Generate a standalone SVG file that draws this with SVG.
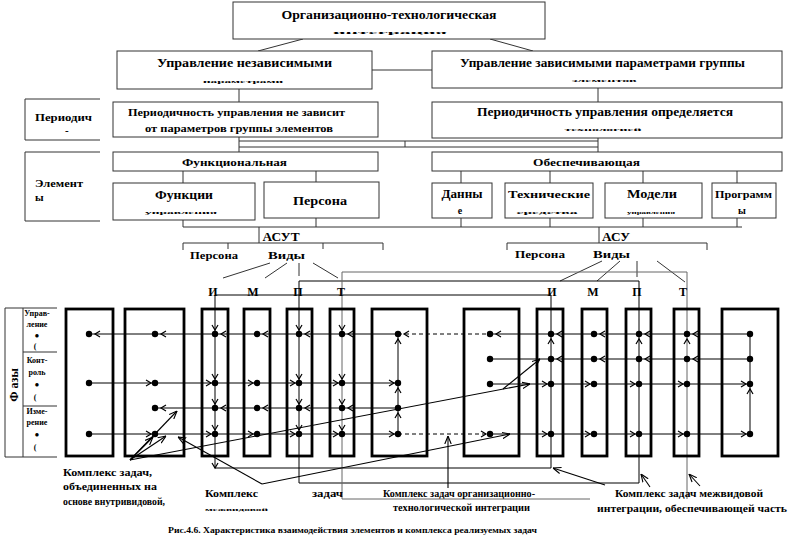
<svg xmlns="http://www.w3.org/2000/svg" width="800" height="542" viewBox="0 0 800 542">
<style>
text{font-family:"Liberation Serif","DejaVu Serif","Times New Roman",serif;font-weight:bold;fill:#000}
.t12{font-size:12px}
.t11{font-size:11px}
.t10{font-size:10px}
.t9{font-size:9px}
.t8{font-size:8px}
.m{text-anchor:middle}
.box{fill:#fff;stroke:#333;stroke-width:1}
.gb{fill:none;stroke:#000;stroke-width:2.8}
.ln{fill:none;stroke:#333;stroke-width:1}
.gl{fill:none;stroke:#000;stroke-width:1}
.gy{fill:none;stroke:#666;stroke-width:1}
.dl{fill:none;stroke:#000;stroke-width:1;stroke-dasharray:4,3}
.ch{fill:none;stroke:#000;stroke-width:1.2}
.ar{fill:none;stroke:#000;stroke-width:1.1;marker-end:url(#ah)}
</style>
<defs>
<path id="cl" class="ch" d="M5,-3 L0,0 L5,3"/>
<path id="cr" class="ch" d="M-5,-3 L0,0 L-5,3"/>
<path id="cd" class="ch" d="M-3,-5 L0,0 L3,-5"/>
<path id="cu" class="ch" d="M-3,5 L0,0 L3,5"/>
<circle id="d" r="3.2" fill="#000"/>
<marker id="ah" markerUnits="userSpaceOnUse" markerWidth="8" markerHeight="8" viewBox="0 0 10 10" refX="10" refY="5" orient="auto"><path d="M0,1 L10,5 L0,9" fill="none" stroke="#000" stroke-width="1.4"/></marker>
</defs>
<rect width="800" height="542" fill="#fff"/>

<g id="connectors">
<path class="ln" d="M303,39 L258,51 M490,39 L533,51 M372,70 H432 M239,89 V102 M598,88 V102"/>
<path class="ln" d="M239,137 V152 M598,137 V152 M239,141 H598 M239,147 H598 M405,141 V147"/>
<path class="ln" d="M183,171 V183 M316,171 V182 M461,171 V183 M550,171 V183 M643,171 V183 M737,171 V183"/>
<path class="ln" d="M183,220 V227 M316,218 V227 M461,218 V227 M550,218 V227 M643,218 V227 M737,218 V227 M183,227 H742"/>
<path class="ln" d="M259,227 V243 M183,243 H383 M183,243 V250 M228,243 V249 M323,243 V249 M383,243 V250"/>
<path class="ln" d="M599,227 V243 M507,243 H707 M507,243 V250 M707,243 V250"/>
<path class="ln" d="M270,263 L223,278 M287,263 L265,278 M299,263 V276 M313,263 L338,278"/>
<path class="ln" d="M602,261 L560,281 M620,261 L597,281 M637,261 V277 M657,261 L685,282"/>
<path class="gl" d="M215,295 H551 V468 H215 V295"/>
<path class="gl" d="M299,281 H639 V483 H299 V281"/>
<path class="gy" d="M342,272 H687 V499 M342,272 V499 H590"/>
<path class="gl" d="M89,334 H398 M490,334 H750 M89,383 H398 M155,408 H398 M89,434 H398 M490,434 H750 M490,359 H750 M490,384 H750 M398,334 V434 M750,334 V434"/>
<path class="dl" d="M398,334 H490 M398,434 H490"/>
<path class="ar" d="M130,460 L153,437"/>
<path class="ar" d="M130,460 L177,411"/>
<path class="ar" d="M130,460 L166,436"/>
<path class="ar" d="M130,460 L530,384"/>
<path class="ar" d="M503,389 L540,359"/>
<path class="ar" d="M262,484 L178,437"/>
<path class="ar" d="M262,484 L510,434"/>
<path class="ar" d="M448,488 V436"/>
<path class="ar" d="M605,485 L553,468"/>
<path class="ar" d="M650,487 L641,474"/>
<path class="ar" d="M700,486 L689,474"/>
</g>

<g id="n-top"><rect class="box" x="233" y="2" width="312" height="37"/>
<text class="t12 m" x="389" y="19" textLength="215" lengthAdjust="spacingAndGlyphs">Организационно-технологическая</text>
<text class="t11 m" transform="translate(390,34) scale(1,0.45)" textLength="114" lengthAdjust="spacingAndGlyphs">интеграция</text></g>

<g id="n-indep"><rect class="box" x="117" y="51" width="255" height="38"/>
<text class="t12 m" x="244.5" y="67" textLength="175" lengthAdjust="spacingAndGlyphs">Управление независимыми</text>
<text class="t11 m" transform="translate(243,83) scale(1,0.45)" textLength="80" lengthAdjust="spacingAndGlyphs">параметрами</text></g>

<g id="n-dep"><rect class="box" x="432" y="51" width="350" height="37"/>
<text class="t12 m" x="602.5" y="67" textLength="285" lengthAdjust="spacingAndGlyphs">Управление зависимыми параметрами группы</text>
<text class="t11 m" transform="translate(604,82) scale(1,0.45)" textLength="65" lengthAdjust="spacingAndGlyphs">элементов</text></g>

<g id="n-per-label"><path class="ln" d="M100,99 H25 V140 H100"/>
<text class="t11" x="35" y="121" textLength="57" lengthAdjust="spacingAndGlyphs">Периодич</text>
<text class="t11" x="65" y="134">-</text></g>

<g id="n-per1"><rect class="box" x="113" y="102" width="265" height="35"/>
<text class="t11 m" x="236.5" y="116" textLength="217" lengthAdjust="spacingAndGlyphs">Периодичность управления не зависит</text>
<text class="t10 m" x="239" y="132" textLength="188" lengthAdjust="spacingAndGlyphs">от параметров группы элементов</text></g>

<g id="n-per2"><rect class="box" x="432" y="102" width="350" height="36"/>
<text class="t12 m" x="605" y="116" textLength="256" lengthAdjust="spacingAndGlyphs">Периодичность управления определяется</text>
<text class="t11 m" transform="translate(603,131) scale(1,0.45)" textLength="77" lengthAdjust="spacingAndGlyphs">технологией</text></g>

<g id="n-el-label"><path class="ln" d="M100,152 H25 V221 H100"/>
<text class="t11" x="35" y="187" textLength="48" lengthAdjust="spacingAndGlyphs">Элемент</text>
<text class="t11" x="35" y="201">ы</text></g>

<g id="n-func"><rect class="box" x="113" y="152" width="265" height="19"/>
<text class="t11 m" x="234.5" y="166" textLength="105" lengthAdjust="spacingAndGlyphs">Функциональная</text></g>
<g id="n-obes"><rect class="box" x="432" y="152" width="350" height="19"/>
<text class="t11 m" x="586.5" y="166" textLength="107" lengthAdjust="spacingAndGlyphs">Обеспечивающая</text></g>

<g id="n-fu"><rect class="box" x="113" y="183" width="142" height="37"/>
<text class="t12 m" x="184" y="199" textLength="58" lengthAdjust="spacingAndGlyphs">Функции</text>
<text class="t11 m" transform="translate(181,214) scale(1,0.45)" textLength="72" lengthAdjust="spacingAndGlyphs">управления</text></g>
<g id="n-pers"><rect class="box" x="264" y="182" width="115" height="36"/>
<text class="t12 m" x="320" y="205" textLength="54" lengthAdjust="spacingAndGlyphs">Персона</text></g>
<g id="n-data"><rect class="box" x="432" y="183" width="60" height="35"/>
<text class="t12 m" x="462" y="198" textLength="41" lengthAdjust="spacingAndGlyphs">Данны</text>
<text class="t10 m" x="460" y="214">е</text></g>
<g id="n-tech"><rect class="box" x="505" y="183" width="88" height="35"/>
<text class="t11 m" x="549" y="198" textLength="82" lengthAdjust="spacingAndGlyphs">Технические</text>
<text class="t11 m" transform="translate(547,214) scale(1,0.45)" textLength="61" lengthAdjust="spacingAndGlyphs">средства</text></g>
<g id="n-model"><rect class="box" x="605" y="183" width="97" height="35"/>
<text class="t12 m" x="652" y="198" textLength="50" lengthAdjust="spacingAndGlyphs">Модели</text>
<text class="t11 m" transform="translate(651,214) scale(1,0.45)" textLength="48" lengthAdjust="spacingAndGlyphs">управления</text></g>
<g id="n-prog"><rect class="box" x="712" y="183" width="64" height="35"/>
<text class="t11 m" x="743.5" y="198" textLength="57" lengthAdjust="spacingAndGlyphs">Программ</text>
<text class="t10 m" x="742" y="214">ы</text></g>

<g id="n-asut">
<text class="t12 m" x="281" y="241" textLength="37" lengthAdjust="spacingAndGlyphs">АСУТ</text>
<text class="t11 m" x="214" y="259" textLength="48" lengthAdjust="spacingAndGlyphs">Персона</text>
<text class="t11 m" x="286.5" y="259" textLength="37" lengthAdjust="spacingAndGlyphs">Виды</text>
<text class="t12 m" x="213" y="296">И</text><text class="t12 m" x="253" y="296">М</text><text class="t12 m" x="298" y="296">П</text><text class="t12 m" x="341" y="296">Т</text>
</g>
<g id="n-asu">
<text class="t12 m" x="616" y="241" textLength="28" lengthAdjust="spacingAndGlyphs">АСУ</text>
<text class="t11 m" x="540" y="258" textLength="50" lengthAdjust="spacingAndGlyphs">Персона</text>
<text class="t11 m" x="611.5" y="258" textLength="37" lengthAdjust="spacingAndGlyphs">Виды</text>
<text class="t12 m" x="552" y="296">И</text><text class="t12 m" x="593" y="296">М</text><text class="t12 m" x="637" y="296">П</text><text class="t12 m" x="683" y="296">Т</text>
</g>

<g id="n-phases">
<path class="ln" d="M57,308 H5 V457 H57 M23,308 V457 M23,352 H57 M23,406 H57"/>
<text class="t12 m" transform="translate(18,385) rotate(-90)">Ф азы</text>
<text class="t8 m" x="37" y="316">Управ-</text><text class="t8 m" x="37" y="327">ление</text><text class="t8 m" x="37" y="338">●</text><text class="t8 m" x="35" y="349">(</text>
<text class="t8 m" x="37" y="363">Конт-</text><text class="t8 m" x="37" y="375">роль</text><text class="t8 m" x="37" y="387">●</text><text class="t8 m" x="35" y="400">(</text>
<text class="t8 m" x="37" y="414">Изме-</text><text class="t8 m" x="37" y="425">рение</text><text class="t8 m" x="37" y="437">●</text><text class="t8 m" x="35" y="450">(</text>
</g>

<g id="n-grid">
<rect class="gb" x="66" y="309" width="47" height="147"/>
<rect class="gb" x="125" y="309" width="59" height="147"/>
<rect class="gb" x="202" y="309" width="26" height="147"/>
<rect class="gb" x="244" y="309" width="26" height="147"/>
<rect class="gb" x="287" y="309" width="25" height="147"/>
<rect class="gb" x="330" y="309" width="24" height="147"/>
<rect class="gb" x="372" y="309" width="55" height="147"/>
<rect class="gb" x="464" y="309" width="55" height="147"/>
<rect class="gb" x="537" y="309" width="26" height="147"/>
<rect class="gb" x="582" y="309" width="25" height="147"/>
<rect class="gb" x="626" y="309" width="25" height="147"/>
<rect class="gb" x="674" y="309" width="25" height="147"/>
<rect class="gb" x="722" y="309" width="56" height="147"/>
<use href="#d" x="89" y="334"/><use href="#d" x="89" y="383"/><use href="#d" x="89" y="434"/>
<use href="#d" x="155" y="334"/><use href="#d" x="155" y="383"/><use href="#d" x="155" y="408"/><use href="#d" x="155" y="434"/>
<use href="#d" x="215" y="334"/><use href="#d" x="215" y="383"/><use href="#d" x="215" y="408"/><use href="#d" x="215" y="434"/>
<use href="#d" x="257" y="334"/><use href="#d" x="257" y="383"/><use href="#d" x="257" y="408"/><use href="#d" x="257" y="434"/>
<use href="#d" x="299" y="334"/><use href="#d" x="299" y="383"/><use href="#d" x="299" y="408"/><use href="#d" x="299" y="434"/>
<use href="#d" x="342" y="334"/><use href="#d" x="342" y="383"/><use href="#d" x="342" y="408"/><use href="#d" x="342" y="434"/>
<use href="#d" x="398" y="334"/><use href="#d" x="398" y="383"/><use href="#d" x="398" y="408"/><use href="#d" x="398" y="434"/>
<use href="#d" x="490" y="334"/><use href="#d" x="490" y="359"/><use href="#d" x="490" y="384"/><use href="#d" x="490" y="434"/>
<use href="#d" x="551" y="334"/><use href="#d" x="551" y="359"/><use href="#d" x="551" y="384"/><use href="#d" x="551" y="434"/>
<use href="#d" x="594" y="334"/><use href="#d" x="594" y="359"/><use href="#d" x="594" y="384"/><use href="#d" x="594" y="434"/>
<use href="#d" x="639" y="334"/><use href="#d" x="639" y="359"/><use href="#d" x="639" y="384"/><use href="#d" x="639" y="434"/>
<use href="#d" x="687" y="334"/><use href="#d" x="687" y="359"/><use href="#d" x="687" y="384"/><use href="#d" x="687" y="434"/>
<use href="#d" x="750" y="334"/><use href="#d" x="750" y="359"/><use href="#d" x="750" y="384"/><use href="#d" x="750" y="434"/>
<use href="#cl" x="95" y="334"/><use href="#cl" x="161" y="334"/><use href="#cl" x="221" y="334"/><use href="#cl" x="263" y="334"/><use href="#cl" x="305" y="334"/><use href="#cl" x="348" y="334"/><use href="#cl" x="404" y="334"/>
<use href="#cl" x="496" y="334"/><use href="#cl" x="557" y="334"/><use href="#cl" x="600" y="334"/><use href="#cl" x="645" y="334"/><use href="#cl" x="693" y="334"/>
<use href="#cr" x="151" y="383"/><use href="#cr" x="211" y="383"/><use href="#cr" x="253" y="383"/><use href="#cr" x="295" y="383"/><use href="#cr" x="338" y="383"/><use href="#cr" x="394" y="383"/>
<use href="#cl" x="161" y="408"/><use href="#cl" x="221" y="408"/><use href="#cl" x="263" y="408"/><use href="#cl" x="305" y="408"/><use href="#cl" x="348" y="408"/>
<use href="#cr" x="151" y="434"/><use href="#cr" x="211" y="434"/><use href="#cr" x="253" y="434"/><use href="#cr" x="295" y="434"/><use href="#cr" x="338" y="434"/><use href="#cr" x="394" y="434"/><use href="#cr" x="486" y="434"/>
<use href="#cr" x="547" y="434"/><use href="#cr" x="590" y="434"/><use href="#cr" x="635" y="434"/><use href="#cr" x="683" y="434"/><use href="#cr" x="746" y="434"/>
<use href="#cl" x="557" y="359"/><use href="#cl" x="600" y="359"/><use href="#cl" x="645" y="359"/><use href="#cl" x="693" y="359"/>
<use href="#cr" x="547" y="384"/><use href="#cr" x="590" y="384"/><use href="#cr" x="635" y="384"/><use href="#cr" x="683" y="384"/><use href="#cr" x="746" y="384"/>
<use href="#cd" x="215" y="330"/><use href="#cd" x="215" y="379"/><use href="#cd" x="215" y="404"/><use href="#cd" x="215" y="430"/><use href="#cd" x="215" y="468"/>
<use href="#cd" x="299" y="330"/><use href="#cd" x="299" y="379"/><use href="#cd" x="299" y="404"/><use href="#cd" x="299" y="430"/>
<use href="#cd" x="342" y="330"/><use href="#cd" x="342" y="379"/><use href="#cd" x="342" y="404"/><use href="#cd" x="342" y="430"/>
<use href="#cu" x="398" y="339"/><use href="#cu" x="398" y="388"/><use href="#cu" x="398" y="413"/>
<use href="#cu" x="551" y="339"/><use href="#cu" x="639" y="339"/><use href="#cu" x="687" y="339"/><use href="#cu" x="750" y="389"/>
</g>

<g id="n-lbl1">
<text class="t10" x="63" y="476" textLength="89" lengthAdjust="spacingAndGlyphs">Комплекс задач,</text>
<text class="t10" x="63" y="490" textLength="94" lengthAdjust="spacingAndGlyphs">объединенных на</text>
<text class="t10" x="63" y="505" textLength="102" lengthAdjust="spacingAndGlyphs">основе внутривидовой,</text>
</g>
<g id="n-lbl2">
<text class="t10" x="205" y="497" textLength="53" lengthAdjust="spacingAndGlyphs">Комплекс</text>
<text class="t10" transform="translate(205,511) scale(1,0.45)" textLength="63" lengthAdjust="spacingAndGlyphs">межвидовой</text>
<text class="t10" x="312" y="497" textLength="31" lengthAdjust="spacingAndGlyphs">задач</text>
</g>
<g id="n-lbl3">
<text class="t10" x="383" y="497" textLength="152" lengthAdjust="spacingAndGlyphs">Комплекс задач организационно-</text>
<text class="t10" x="393" y="511" textLength="137" lengthAdjust="spacingAndGlyphs">технологической интеграции</text>
</g>
<g id="n-lbl4">
<text class="t10" x="615" y="497" textLength="148" lengthAdjust="spacingAndGlyphs">Комплекс задач межвидовой</text>
<text class="t10" x="597" y="512" textLength="190" lengthAdjust="spacingAndGlyphs">интеграции, обеспечивающей часть</text>
</g>
<text class="t9" x="168" y="533" textLength="369" lengthAdjust="spacingAndGlyphs">Рис.4.6.  Характеристика  взаимодействия  элементов и комплекса реализуемых задач</text>
</svg>
